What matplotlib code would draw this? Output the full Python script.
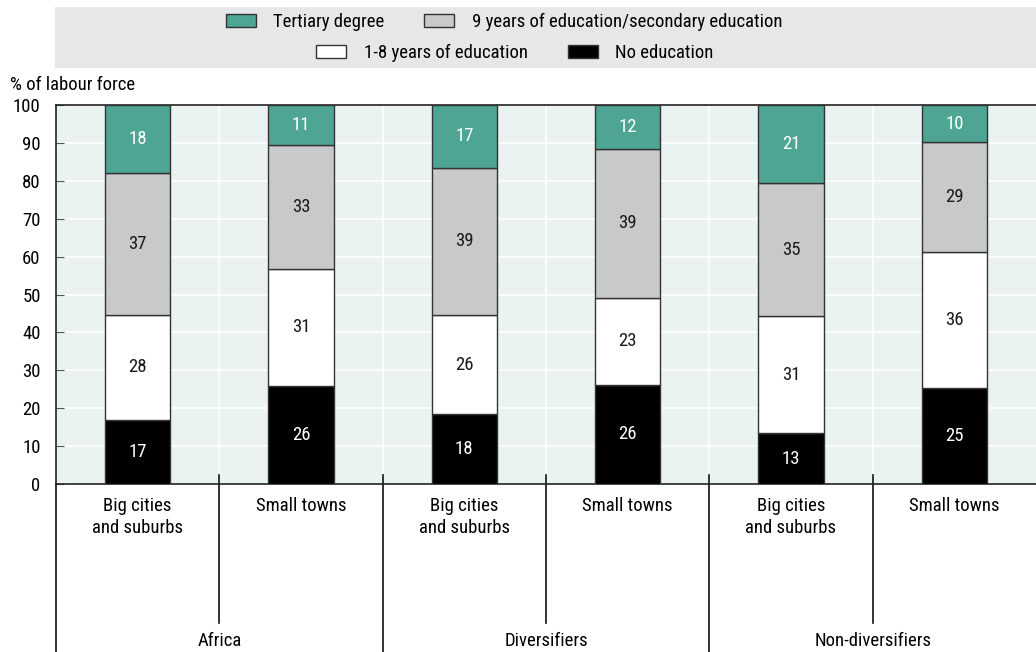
import numpy as np
import matplotlib
matplotlib.use("Agg")
import matplotlib.pyplot as plt
from matplotlib.patches import Patch, Rectangle

plt.rcParams['font.family'] = ['Roboto Condensed', 'DejaVu Sans']
FS = 13.5

# data
groups = ["Africa", "Diversifiers", "Non-diversifiers"]
places = ["Big cities\nand suburbs", "Small towns"] * 3
no_edu = [17.0, 25.9, 18.4, 26.2, 13.4, 25.4]
primary = [27.6, 30.8, 26.2, 23.0, 30.9, 35.8]
secondary = [37.4, 32.7, 38.8, 39.2, 35.1, 29.0]
tertiary = [18.0, 10.6, 16.6, 11.6, 20.6, 9.8]

series = [
    ("No education", no_edu, "#000000", "white"),
    ("1-8 years of education", primary, "#ffffff", "#1a1a1a"),
    ("9 years of education/secondary education", secondary, "#c8c9cb", "#1a1a1a"),
    ("Tertiary degree", tertiary, "#4ea593", "white"),
]

fig = plt.figure(figsize=(10.36, 6.52), dpi=100)
ax = fig.add_axes([56 / 1036, 1 - 484 / 652, 1 - 56 / 1036, 379 / 652])
ax.set_facecolor("#eaf3f1")

x = np.arange(len(places))
bottom = np.zeros(len(places))
for name, vals, col, tcol in series:
    vals = np.array(vals)
    ax.bar(x, vals, 0.4, bottom=bottom, color=col, edgecolor="#333333", linewidth=1, zorder=3)
    for xi, b, v in zip(x, bottom, vals):
        ax.text(xi, b + v / 2, f"{round(v)}", ha="center", va="center", color=tcol, fontsize=FS, zorder=4)
    bottom += vals

ax.set_xlim(-0.5, 5.5)
ax.set_ylim(0, 100)
ax.set_yticks(range(0, 101, 10))
ax.tick_params(axis="y", direction="in", length=6, color="#555555", labelsize=FS, pad=11)
ax.set_xticks([])
ax.grid(axis="y", color="white", linewidth=1.2, zorder=0)
for b in np.arange(0.5, 5.5, 1):
    ax.axvline(b, color="white", linewidth=1.2, zorder=0)
ax.set_axisbelow(True)
for s in ["left", "top", "bottom"]:
    ax.spines[s].set_color("#222222")
    ax.spines[s].set_linewidth(1.2)
ax.spines["right"].set_visible(False)

trans = ax.get_xaxis_transform()
# category labels and separators below axis
for xi, lab in zip(x, places):
    ax.text(xi, -0.033, lab, transform=trans, ha="center", va="top", fontsize=FS, linespacing=1.3)
for b in [0.5, 2.5, 4.5]:
    ax.plot([b, b], [0.024, -0.367], transform=trans, color="#111111", lw=1.2, clip_on=False)
for b in [1.5, 3.5]:
    ax.plot([b, b], [0.024, -0.47], transform=trans, color="#111111", lw=1.2, clip_on=False)
ax.plot([-0.5, -0.5], [0, -0.47], transform=trans, color="#111111", lw=1.2, clip_on=False)
for gi, g in enumerate(groups):
    ax.text(2 * gi + 0.5, -0.415, g, transform=trans, ha="center", va="center", fontsize=FS)

fig.text(10 / 1036, 1 - 85 / 652, "% of labour force", fontsize=FS, va="center")

# legend band
fig.patches.append(Rectangle((55 / 1036, 1 - 68 / 652), 1, 61 / 652, transform=fig.transFigure,
                             facecolor="#e6e7e8", edgecolor="none", zorder=0))
h1 = [Patch(facecolor=series[3][2], edgecolor="#333333"), Patch(facecolor=series[2][2], edgecolor="#333333")]
h2 = [Patch(facecolor=series[1][2], edgecolor="#333333"), Patch(facecolor=series[0][2], edgecolor="#333333")]
kw = dict(loc="center", ncol=2, frameon=False, fontsize=FS, handlelength=1.6, handleheight=0.75,
          columnspacing=2.1, handletextpad=0.95, borderpad=0, borderaxespad=0)
fig.legend(h1, [series[3][0], series[2][0]], bbox_to_anchor=(504 / 1036, 1 - 22 / 652), **kw)
fig.legend(h2, [series[1][0], series[0][0]], bbox_to_anchor=(515 / 1036, 1 - 53 / 652), **kw)

fig.savefig("out.png", dpi=100)
